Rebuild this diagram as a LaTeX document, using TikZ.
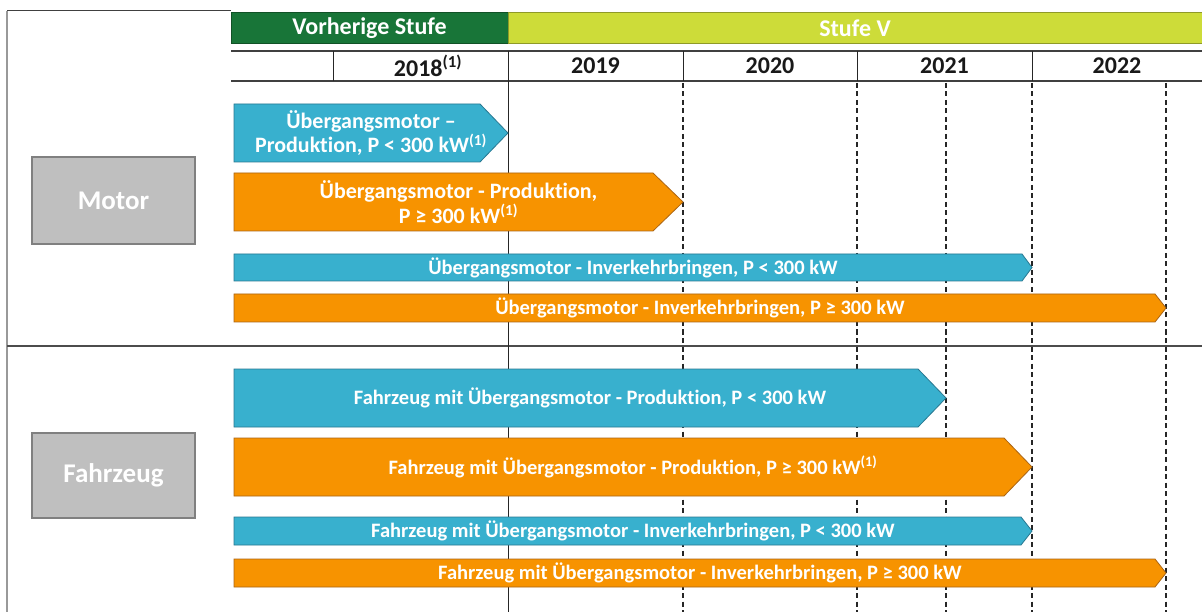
\documentclass[tikz,border=0pt]{standalone}
\usepackage{fontspec}
\setmainfont[Ligatures={NoCommon}]{Carlito}
\definecolor{barblue}{RGB}{56,176,206}
\definecolor{barblueline}{RGB}{40,120,145}
\definecolor{barorange}{RGB}{247,147,0}
\definecolor{barorangeline}{RGB}{170,100,20}
\definecolor{darkgreen}{RGB}{24,117,56}
\definecolor{lightgreen}{RGB}{205,220,57}
\definecolor{boxgray}{RGB}{191,191,191}
\definecolor{boxline}{RGB}{128,128,128}
\tikzset{
  bartext/.style={text=white, font=\bfseries\fontsize{20.5}{24}\selectfont, align=center, inner sep=0pt},
  bartexttwo/.style={text=white, font=\bfseries\fontsize{22}{24.5}\selectfont, align=center, inner sep=0pt},
  yeartext/.style={text=black!90, font=\bfseries\fontsize{24}{26}\selectfont, inner sep=0pt},
  headtext/.style={text=white, font=\bfseries\fontsize{24}{26}\selectfont, inner sep=0pt},
  boxtext/.style={text=white, font=\bfseries\fontsize{27}{30}\selectfont, inner sep=0pt},
  gridsolid/.style={line width=1pt, black!85},
  griddashed/.style={line width=1.2pt, black!85, dash pattern=on 5pt off 3.5pt},
  rowline/.style={line width=1.5pt, black!75},
}
\newcommand\tlbar[8]{% name, x1, x2, y1, y2, depth, fill, draw
  \filldraw[fill=#7, draw=#8, line width=0.8pt] (#2,#4) -- ({#3-#6},#4) -- (#3,{(#4+#5)/2}) -- ({#3-#6},#5) -- (#2,#5) -- cycle;
  \coordinate (#1) at ({(#2+#3)/2},{(#4+#5)/2});
}
\begin{document}
\begin{tikzpicture}[x=1pt,y=-1pt]
\useasboundingbox (0,0) rectangle (1202,612);
\fill[white] (0,0) rectangle (1202,612);
% frame
\draw[line width=1pt, black!75] (7,11) -- (231,11);
\draw[line width=1.5pt, black!40] (7,11) -- (7,612);
\draw[line width=2pt, black!70] (7,346) -- (1202,346);
% header bars
\filldraw[fill=darkgreen, draw=darkgreen!70!black, line width=0.8pt] (231,12) rectangle (508,43);
\filldraw[fill=lightgreen, draw=lightgreen!70!black, line width=0.8pt] (508,12) rectangle (1202,43);
\node[headtext] (hprev) at (369.5,28) {Vorherige Stufe};
\node[headtext] (hv) at (855,28) {Stufe V};
% year row
\draw[rowline] (231,51) -- (1202,51);
\draw[rowline] (231,81) -- (1202,81);
\foreach \x in {333,508,683,857,1032} \draw[gridsolid] (\x,51) -- (\x,81);
\node[yeartext] (y18) at (428,66) {2018\textsuperscript{(1)}};
\node[yeartext] (y19) at (595.5,66) {2019};
\node[yeartext] (y20) at (770,66) {2020};
\node[yeartext] (y21) at (944.5,66) {2021};
\node[yeartext] (y22) at (1117,66) {2022};
% verticals
\draw[gridsolid] (508,81) -- (508,612);
\foreach \x in {683,857,946,1032,1166} \draw[griddashed] (\x,83) -- (\x,612);
% category boxes
\node[draw=boxline, fill=boxgray, line width=1.5pt, minimum width=163pt, minimum height=87pt, inner sep=0pt, boxtext] (motor) at (113.5,200.5) {Motor};
\node[draw=boxline, fill=boxgray, line width=1.5pt, minimum width=163pt, minimum height=85pt, inner sep=0pt, boxtext] (fahrzeug) at (113.5,475.5) {Fahrzeug};
% bars
\tlbar{b1}{234}{508}{104}{162}{28}{barblue}{barblueline}
\node[bartexttwo] (t1) at (b1) {Übergangsmotor –\\Produktion, P < 300 kW\textsuperscript{(1)}};
\tlbar{b2}{234}{683}{173}{231}{30}{barorange}{barorangeline}
\node[bartexttwo] (t2) at (b2) {Übergangsmotor - Produktion,\\P ≥ 300 kW\textsuperscript{(1)}};
\tlbar{b3}{234}{1032}{254}{281}{10}{barblue}{barblueline}
\node[bartext] (t3) at (b3) {Übergangsmotor - Inverkehrbringen, P < 300 kW};
\tlbar{b4}{234}{1166}{294}{322}{11}{barorange}{barorangeline}
\node[bartext] (t4) at (b4) {Übergangsmotor - Inverkehrbringen, P ≥ 300 kW};
\tlbar{b5}{234}{946}{369}{427}{28}{barblue}{barblueline}
\node[bartext] (t5) at (b5) {Fahrzeug mit Übergangsmotor - Produktion, P < 300 kW};
\tlbar{b6}{234}{1032}{438}{496}{28}{barorange}{barorangeline}
\node[bartext] (t6) at (b6) {Fahrzeug mit Übergangsmotor - Produktion, P ≥ 300 kW\textsuperscript{(1)}};
\tlbar{b7}{234}{1032}{517}{545}{11}{barblue}{barblueline}
\node[bartext] (t7) at (b7) {Fahrzeug mit Übergangsmotor - Inverkehrbringen, P < 300 kW};
\tlbar{b8}{234}{1166}{559}{587}{11}{barorange}{barorangeline}
\node[bartext] (t8) at (b8) {Fahrzeug mit Übergangsmotor - Inverkehrbringen, P ≥ 300 kW};
\end{tikzpicture}
\end{document}
